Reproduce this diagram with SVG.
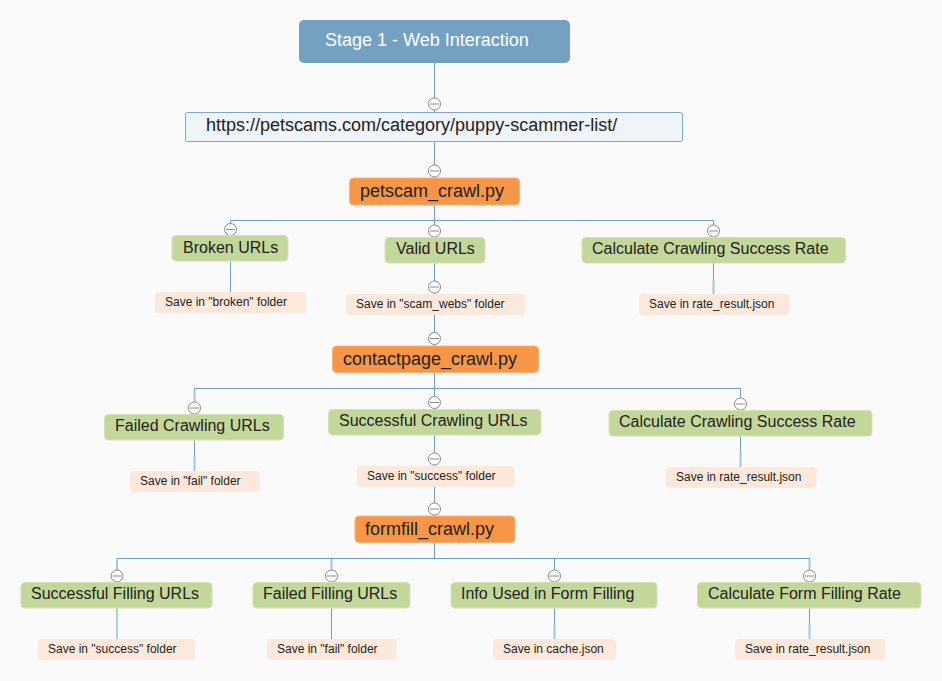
<svg xmlns="http://www.w3.org/2000/svg" width="942" height="681" viewBox="0 0 942 681">
<style>
text{font-family:"Liberation Sans",Arial,sans-serif;fill:#222}
.stage{fill:#74a0c2}
.url{fill:#eef4f8;stroke:#7ea7c9;stroke-width:1}
.orange{fill:#f79646;stroke:#fbb27a;stroke-width:1}
.green{fill:#c4d79b;stroke:#d3e2b3;stroke-width:1}
.save{fill:#fde9db}
.t18{font-size:18px}
.t16{font-size:16px}
.t12{font-size:12px}
.ln{stroke:#6e9cc3;stroke-width:1;fill:none}
.lt{stroke:#a9c5dd;stroke-width:2;fill:none}
.tg circle{fill:#fff;stroke:#8a8a8a;stroke-width:1}
.tg line{stroke:#8a8a8a;stroke-width:1}
</style>
<defs>
<g id="tog" class="tg"><circle cx="0" cy="0" r="6"/><line x1="-4.5" y1="0" x2="4.5" y2="0"/></g>
</defs>
<rect width="942" height="681" fill="#fafafa"/>
<g id="connectors">
<path class="ln" d="M434.5 63V112"/>
<path class="ln" d="M434.5 142V178"/>
<path class="ln" d="M434.5 205V220.5M230.5 229V220.5H713.5V231M434.5 220.5V237"/>
<path class="ln" d="M230.5 261V292"/>
<path class="ln" d="M434.5 263V294"/>
<path class="ln" d="M713.5 263V294"/><path class="lt" d="M713.5 280V294"/>
<path class="ln" d="M434.5 315V346"/>
<path class="ln" d="M434.5 373V388.5M194.5 408V388.5H740.5V404M434.5 388.5V410"/><path class="lt" d="M194.5 390V402"/>
<path class="ln" d="M194.5 440V471"/><path class="lt" d="M194.5 456V471"/>
<path class="ln" d="M434.5 435V466"/>
<path class="ln" d="M740.5 436V467"/><path class="lt" d="M740.5 452V467"/>
<path class="ln" d="M434.5 487V516"/>
<path class="ln" d="M434.5 543V558.5M117 576V558.5H809.5V576M331.5 558.5V576M554.5 558.5V576"/>
<path class="lt" d="M117 560V570M331.5 560V570M809.5 560V570"/>
<path class="ln" d="M117 608V639M331.5 608V639M554.5 608V639M809.5 608V639"/>
<path class="lt" d="M554.5 624V639M809.5 624V639"/>
</g>
<g id="stage1"><rect class="stage" x="299" y="20" width="271" height="43" rx="5"/><text class="t18" x="325" y="46" style="fill:#fff">Stage 1 - Web Interaction</text></g>
<g id="url"><use href="#tog" x="434.5" y="104"/><rect class="url" x="185.5" y="112.5" width="497" height="29" rx="2"/><text class="t18" x="206" y="131">https://petscams.com/category/puppy-scammer-list/</text></g>
<g id="petscam"><use href="#tog" x="434.5" y="171"/><rect class="orange" x="349.5" y="178" width="170" height="27" rx="4"/><text class="t18" x="360" y="197">petscam_crawl.py</text></g>
<g id="broken"><use href="#tog" x="230.5" y="229.5"/><rect class="green" x="172" y="235.5" width="116" height="25.5" rx="4"/><text class="t16" x="183" y="252.5">Broken URLs</text></g>
<g id="valid"><use href="#tog" x="434.5" y="231"/><rect class="green" x="385" y="237.5" width="100" height="25.5" rx="4"/><text class="t16" x="396" y="254">Valid URLs</text></g>
<g id="calc1"><use href="#tog" x="713.5" y="231"/><rect class="green" x="582" y="237.5" width="263.5" height="25.5" rx="4"/><text class="t16" x="592" y="254">Calculate Crawling Success Rate</text></g>
<g id="save-broken"><rect class="save" x="155" y="292" width="151" height="21.5" rx="4"/><text class="t12" x="165" y="306">Save in "broken" folder</text></g>
<g id="save-scam"><use href="#tog" x="434.5" y="287"/><rect class="save" x="346" y="294" width="179" height="21" rx="4"/><text class="t12" x="356" y="308">Save in "scam_webs" folder</text></g>
<g id="save-rate1"><rect class="save" x="639" y="294" width="150.5" height="21" rx="4"/><text class="t12" x="649" y="308">Save in rate_result.json</text></g>
<g id="contactpage"><use href="#tog" x="434.5" y="338.5"/><rect class="orange" x="332.5" y="346" width="206" height="26.5" rx="4"/><text class="t18" x="343" y="365">contactpage_crawl.py</text></g>
<g id="failed-crawl"><use href="#tog" x="194.5" y="408"/><rect class="green" x="104.5" y="414.5" width="179" height="25.5" rx="4"/><text class="t16" x="115" y="431">Failed Crawling URLs</text></g>
<g id="success-crawl"><use href="#tog" x="434.5" y="402.5"/><rect class="green" x="328.5" y="409.5" width="212.5" height="25.5" rx="4"/><text class="t16" x="339" y="426">Successful Crawling URLs</text></g>
<g id="calc2"><use href="#tog" x="740.5" y="404"/><rect class="green" x="609" y="410.5" width="263" height="25.5" rx="4"/><text class="t16" x="619" y="427">Calculate Crawling Success Rate</text></g>
<g id="save-fail1"><rect class="save" x="130" y="471" width="129.5" height="21" rx="4"/><text class="t12" x="140" y="485">Save in "fail" folder</text></g>
<g id="save-success1"><use href="#tog" x="434.5" y="459"/><rect class="save" x="357" y="466" width="157.5" height="21" rx="4"/><text class="t12" x="367" y="480">Save in "success" folder</text></g>
<g id="save-rate2"><rect class="save" x="666" y="467" width="150.5" height="21" rx="4"/><text class="t12" x="676" y="481">Save in rate_result.json</text></g>
<g id="formfill"><use href="#tog" x="434.5" y="509"/><rect class="orange" x="355" y="516" width="160" height="26.5" rx="4"/><text class="t18" x="365" y="535">formfill_crawl.py</text></g>
<g id="success-fill"><use href="#tog" x="117" y="576"/><rect class="green" x="21" y="582.5" width="191" height="25.5" rx="4"/><text class="t16" x="31" y="599">Successful Filling URLs</text></g>
<g id="failed-fill"><use href="#tog" x="331.5" y="576"/><rect class="green" x="253" y="582.5" width="157" height="25.5" rx="4"/><text class="t16" x="263" y="599">Failed Filling URLs</text></g>
<g id="info"><use href="#tog" x="554.5" y="576"/><rect class="green" x="451" y="582.5" width="206" height="25.5" rx="4"/><text class="t16" x="461" y="599">Info Used in Form Filling</text></g>
<g id="calc-form"><use href="#tog" x="809.5" y="576"/><rect class="green" x="697.5" y="582.5" width="223.5" height="25.5" rx="4"/><text class="t16" x="708" y="599">Calculate Form Filling Rate</text></g>
<g id="save-success2"><rect class="save" x="38" y="639" width="157" height="21" rx="4"/><text class="t12" x="48" y="653">Save in "success" folder</text></g>
<g id="save-fail2"><rect class="save" x="267" y="639" width="129.5" height="21" rx="4"/><text class="t12" x="277" y="653">Save in "fail" folder</text></g>
<g id="save-cache"><rect class="save" x="493" y="639" width="123" height="21" rx="4"/><text class="t12" x="503" y="653">Save in cache.json</text></g>
<g id="save-rate3"><rect class="save" x="735" y="639" width="150.5" height="21" rx="4"/><text class="t12" x="745" y="653">Save in rate_result.json</text></g>
</svg>
